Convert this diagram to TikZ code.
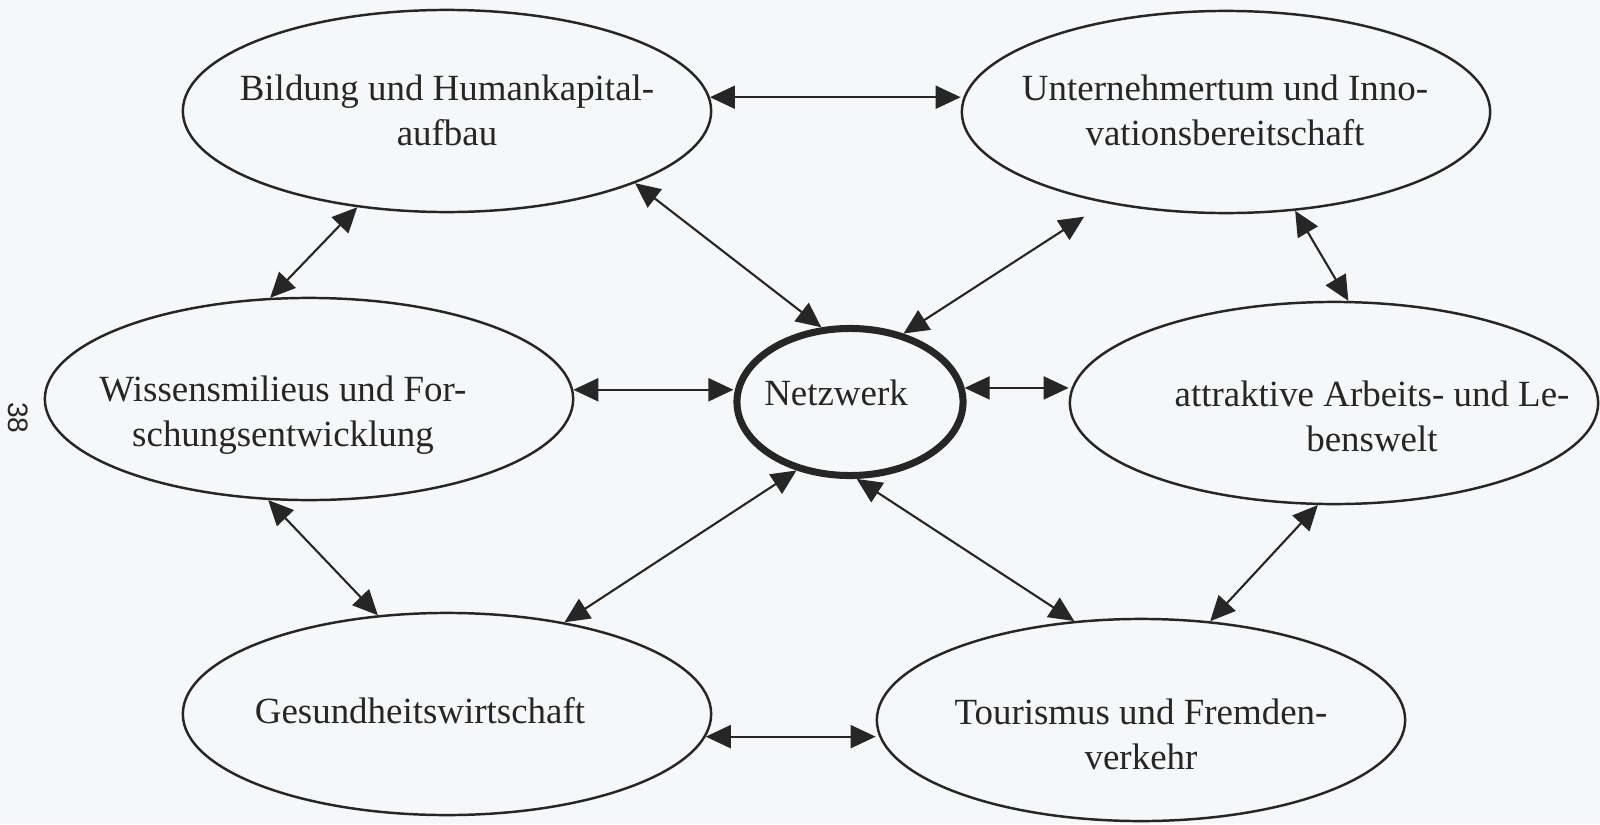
\documentclass[tikz,border=0pt]{standalone}
\usepackage{fontspec}
\setmainfont{Liberation Serif}
\newfontfamily\pagenumfont{Liberation Sans}
\usepackage{tikz}
\usetikzlibrary{arrows.meta,shapes.geometric}
\definecolor{pagebg}{RGB}{246,247,248}
\definecolor{inkgray}{RGB}{38,38,38}

\begin{document}
\begin{tikzpicture}[
    x=0.01cm, y=-0.01cm,
    bubble/.style={ellipse, draw=inkgray, line width=0.7pt, minimum width=5.28cm, minimum height=2.02cm, inner sep=0pt},
    hub/.style={ellipse, draw=inkgray, line width=2pt, minimum width=2.26cm, minimum height=1.47cm, inner sep=0pt},
    words/.style={text=inkgray, align=center, inner sep=0pt, font=\fontsize{10.5}{12.8}\selectfont},
    link/.style={{Triangle[length=2.5mm,width=2.3mm]}-{Triangle[length=2.5mm,width=2.3mm]}, line width=0.6pt, draw=inkgray}
]
    \fill[pagebg] (0,0) rectangle (1600,824);
    \useasboundingbox (0,0) rectangle (1600,824);

    \node[rotate=-90, text=inkgray, font=\pagenumfont\fontsize{8}{9}\selectfont] (pagenum) at (18,418) {38};

    % ellipses
    \node[hub] (netz) at (850,402) {};
    \node[bubble] (bild) at (447,111) {};
    \node[bubble] (unter) at (1226,112) {};
    \node[bubble] (wiss) at (309,399) {};
    \node[bubble] (attr) at (1334,403) {};
    \node[bubble] (gesund) at (447,714) {};
    \node[bubble] (tour) at (1141,720) {};

    % texts
    \node[words] (netz-txt) at (836,393) {Netzwerk};
    \node[words] (bild-txt) at (447,110) {Bildung und Humankapital-\\aufbau};
    \node[words] (unter-txt) at (1225,110) {Unternehmertum und Inno-\\vationsbereitschaft};
    \node[words] (wiss-txt) at (283,415) {Wissensmilieus und For-\\schungsentwicklung};
    \node[words] (attr-txt) at (1372,416) {attraktive Arbeits- und Le-\\benswelt};
    \node[words] (gesund-txt) at (420,711) {Gesundheitswirtschaft};
    \node[words] (tour-txt) at (1141,734) {Tourismus und Fremden-\\verkehr};

    % connectors
    \draw[link] (bild.3) -- (bild.3 -| unter.west);
    \draw[link] (bild.-21) -- (netz.111);
    \draw[link, shorten >=2.5mm] (netz.52) -- (unter.-143);
    \draw[link] (bild.-133) -- (wiss.111);
    \draw[link] (unter.-55) -- (attr.82);
    \draw[link] (wiss.2) -- (wiss.2 -| netz.west);
    \draw[link] (netz.7) -- (netz.7 -| attr.west);
    \draw[link] (wiss.-112) -- (gesund.125);
    \draw[link] (netz.-128) -- (gesund.38);
    \draw[link] (netz.-85) -- (tour.124);
    \draw[link] (attr.-99) -- (tour.55);
    \draw[link] (gesund.-5) -- (gesund.-5 -| tour.west);
\end{tikzpicture}
\end{document}
